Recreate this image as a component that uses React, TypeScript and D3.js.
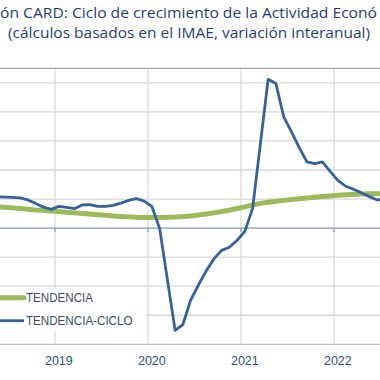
import React, { useEffect } from "react";
import * as d3 from "d3";

const months: Date[] = d3.timeMonth.range(new Date(2018, 4, 1), new Date(2022, 7, 1));
const yearTicks = ["2019", "2020", "2021", "2022"];
const tendencia = [
  3.68, 3.6, 3.48, 3.36, 3.24, 3.13, 3.05, 2.93,
  2.84, 2.74, 2.62, 2.51, 2.41, 2.31, 2.19, 2.08, 2.0, 1.93, 1.88, 1.84,
  1.84, 1.84, 1.86, 1.89, 1.98, 2.1, 2.25, 2.43, 2.62, 2.84, 3.08, 3.36,
  3.65, 3.99, 4.25, 4.46, 4.63, 4.77, 4.91, 5.04, 5.18, 5.3, 5.42, 5.54,
  5.65, 5.73, 5.8, 5.85, 5.89, 5.92, 5.94,
];
const tendenciaCiclo = [
  5.37, 5.34, 5.28, 5.2, 4.85, 4.25, 3.61, 3.22,
  3.73, 3.56, 3.34, 3.99, 4.03, 3.73, 3.73, 3.9, 4.3, 4.77, 5.06, 4.65,
  3.73, -0.05, -8.83, -17.6, -16.6, -12.4, -9.8, -7.4, -5.3, -3.84, -3.3, -2.1,
  -0.57, 3.39, 14.5, 25.6, 24.9, 19.2, 16.6, 13.9, 11.4, 11.1, 11.4, 9.76,
  8.2, 7.2, 6.7, 6.1, 5.46, 4.89, 4.77,
];
const yTicks = [-15, -10, -5, 0, 5, 10, 15, 20, 25];
const titleLine1 = "ón CARD: Ciclo de crecimiento de la Actividad Econó";
const titleLine2 = "(cálculos basados en el IMAE, variación interanual)";
const legendLabels = ["TENDENCIA", "TENDENCIA-CICLO"];

const W = 380;
const H = 380;
const GREEN = "#9bbb59";
const BLUE = "#35629e";

export default function App() {
  useEffect(() => {
    document.body.style.margin = "0";
  }, []);

  const keys = months.map((d) => d3.timeFormat("%Y-%m")(d));
  const bw = 7.75;
  const x = d3
    .scaleBand<string>()
    .domain(keys)
    .range([55 - 8 * bw, 55 - 8 * bw + keys.length * bw])
    .padding(0);
  const y = d3.scaleLinear().domain([-20, 27.5]).range([344.3, 68.3]);

  const cx = (i: number) => (x(keys[i]) as number) + x.bandwidth() / 2;
  const line = d3
    .line<number>()
    .x((_, i) => cx(i))
    .y((v) => y(v));

  const janKeys = keys.filter((k) => k.endsWith("-01"));

  return (
    <svg width={W} height={H} style={{ display: "block", background: "#fff" }}>
      <defs>
        <clipPath id="plot">
          <rect x={0} y={60} width={W} height={290} />
        </clipPath>
      </defs>
      {/* title */}
      <text
        x={0}
        y={18}
        fontFamily="'Open Sans', sans-serif"
        fontSize={14}
        fill="#1f3d7a"
        textLength={377}
        lengthAdjust="spacingAndGlyphs"
      >
        {titleLine1}
      </text>
      <text
        x={8}
        y={38}
        fontFamily="'Open Sans', sans-serif"
        fontSize={14}
        fill="#1f3d7a"
        textLength={362}
        lengthAdjust="spacingAndGlyphs"
      >
        {titleLine2}
      </text>

      {/* horizontal gridlines */}
      {yTicks
        .filter((t) => t !== 0)
        .map((t) => (
          <line key={t} x1={0} x2={W} y1={y(t)} y2={y(t)} stroke="#d9d9d9" strokeWidth={1.3} />
        ))}
      {/* vertical gridlines */}
      {janKeys.map((k) => (
        <line
          key={k}
          x1={x(k) as number}
          x2={x(k) as number}
          y1={68.3}
          y2={344.3}
          stroke="#d9d9d9"
          strokeWidth={1.2}
        />
      ))}
      {/* top and bottom frame */}
      <line x1={0} x2={W} y1={68.3} y2={68.3} stroke="#a6a6a6" strokeWidth={1.2} />
      <line x1={0} x2={W} y1={344.3} y2={344.3} stroke="#bfbfbf" strokeWidth={1.2} />
      {/* zero axis */}
      <line x1={0} x2={W} y1={y(0)} y2={y(0)} stroke="#7e9ac0" strokeWidth={1.3} />
      {janKeys.map((k) => (
        <line
          key={"t" + k}
          x1={x(k) as number}
          x2={x(k) as number}
          y1={y(0)}
          y2={y(0) + 4}
          stroke="#7e9ac0"
          strokeWidth={1.2}
        />
      ))}

      {/* series */}
      <g clipPath="url(#plot)">
        <path d={line(tendencia) || ""} fill="none" stroke={GREEN} strokeWidth={5} strokeLinejoin="round" />
        <path
          d={line(tendenciaCiclo) || ""}
          fill="none"
          stroke={BLUE}
          strokeWidth={2.8}
          strokeLinejoin="round"
        />
      </g>

      {/* legend */}
      <rect x={0} y={288.5} width={146} height={42.5} fill="#fff" />
      <line x1={0} x2={24} y1={297.7} y2={297.7} stroke={GREEN} strokeWidth={5} strokeLinecap="round" />
      <text
        x={26}
        y={302}
        fontFamily="'Liberation Sans Narrow', 'Liberation Sans', sans-serif"
        fontSize={12}
        fill="#3c4a68"
        textLength={67}
        lengthAdjust="spacingAndGlyphs"
      >
        {legendLabels[0]}
      </text>
      <line x1={0} x2={24} y1={320.7} y2={320.7} stroke={BLUE} strokeWidth={2.8} />
      <text
        x={26}
        y={325}
        fontFamily="'Liberation Sans Narrow', 'Liberation Sans', sans-serif"
        fontSize={12}
        fill="#3c4a68"
        textLength={106.5}
        lengthAdjust="spacingAndGlyphs"
      >
        {legendLabels[1]}
      </text>

      {/* year labels */}
      {janKeys.map((k, i) => (
        <text
          key={"l" + k}
          x={(x(k) as number) + x.bandwidth() / 2}
          y={365}
          textAnchor="middle"
          fontFamily="'Liberation Sans Narrow', 'Liberation Sans', sans-serif"
          fontSize={12.5}
          fill="#2a4f86"
        >
          {yearTicks[i]}
        </text>
      ))}
    </svg>
  );
}
